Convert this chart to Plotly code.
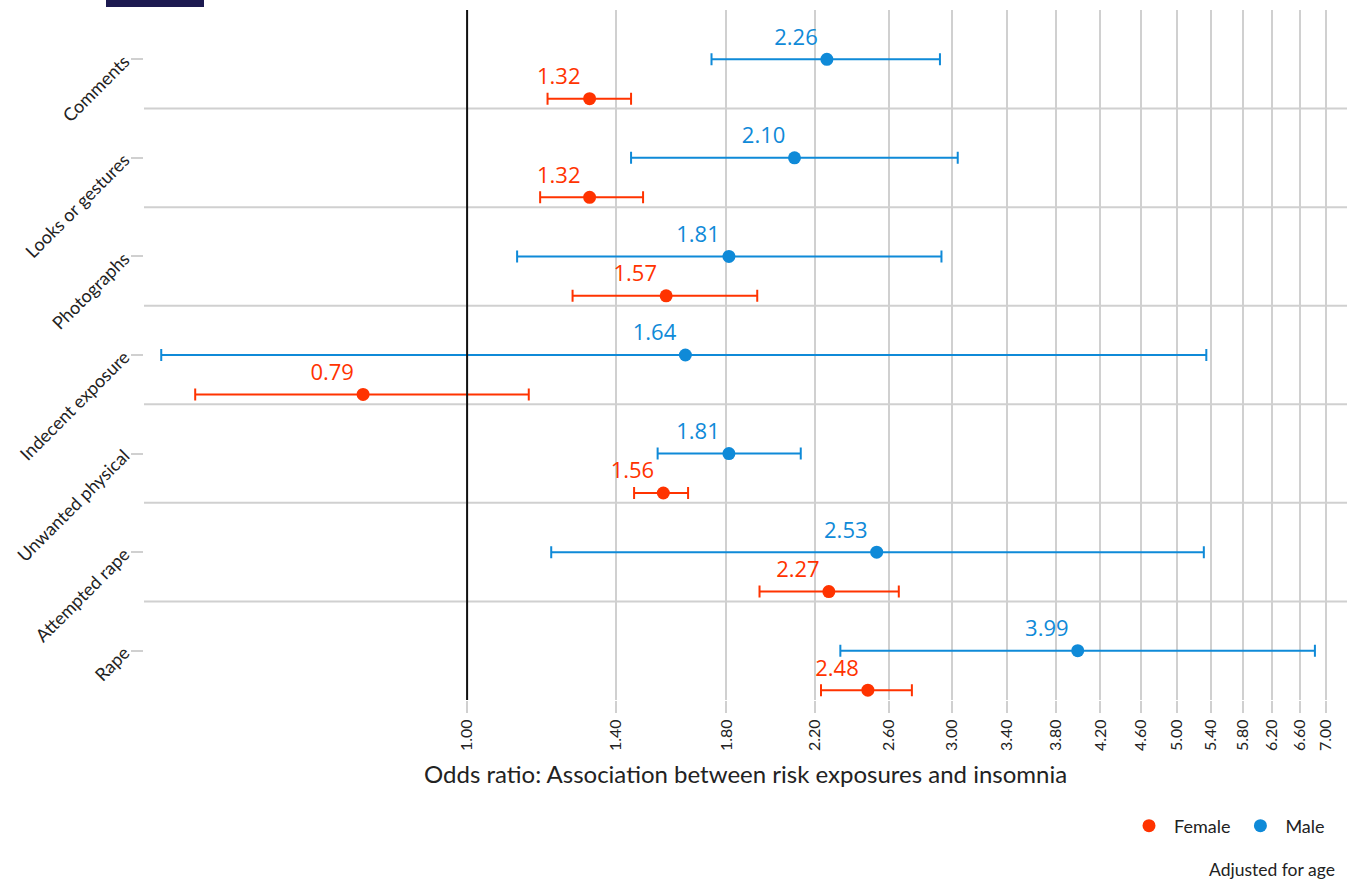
import plotly.graph_objects as go

# Exposure categories, top to bottom
categories = ["Comments", "Looks or gestures", "Photographs", "Indecent exposure",
              "Unwanted physical", "Attempted rape", "Rape"]

# Odds ratios with 95% confidence limits
male_or = [2.26, 2.10, 1.81, 1.64, 1.81, 2.53, 3.99]
male_lo = [1.74, 1.45, 1.12, 0.50, 1.54, 1.21, 2.33]
male_hi = [2.92, 3.04, 2.93, 5.34, 2.13, 5.31, 6.83]

female_or = [1.32, 1.32, 1.57, 0.79, 1.56, 2.27, 2.48]
female_lo = [1.20, 1.18, 1.27, 0.54, 1.46, 1.94, 2.23]
female_hi = [1.45, 1.49, 1.93, 1.15, 1.65, 2.66, 2.74]

x_ticks = [1.00, 1.40, 1.80, 2.20, 2.60, 3.00, 3.40, 3.80, 4.20, 4.60,
           5.00, 5.40, 5.80, 6.20, 6.60, 7.00]

RED = "#FF3300"
BLUE = "#0F8AD8"
GRID = "#D0D0D0"
TEXT = "#222222"
LABEL_FONT = "Open Sans"
AXIS_FONT = "Lato"

female_offset = 0.4
y_male = list(range(len(categories)))
y_female = [i + female_offset for i in y_male]

fig = go.Figure()


def add_series(name, y, est, lo, hi, color):
    fig.add_trace(go.Scatter(
        x=est, y=y, name=name, mode="markers+text",
        marker=dict(color=color, size=13),
        text=[f"{v:.2f}" for v in est],
        textposition="top left",
        textfont=dict(family=LABEL_FONT, size=22, color=color),
        error_x=dict(type="data", symmetric=False,
                     array=[h - e for h, e in zip(hi, est)],
                     arrayminus=[e - l for e, l in zip(est, lo)],
                     color=color, thickness=2, width=6),
        cliponaxis=False,
    ))


add_series("Female", y_female, female_or, female_lo, female_hi, RED)
add_series("Male", y_male, male_or, male_lo, male_hi, BLUE)

PLOT_W = 1203
PLOT_H = 690


def px_x(px):
    return (px - 144) / PLOT_W


def px_y(py):
    return (700 - py) / PLOT_H


shapes = []
# separators between exposure groups
for i in range(len(categories) - 1):
    shapes.append(dict(type="line", xref="paper", x0=0, x1=1, yref="y",
                       y0=i + 0.5, y1=i + 0.5, line=dict(color=GRID, width=2),
                       layer="below"))
# reference line at OR = 1
shapes.append(dict(type="line", xref="x", x0=1, x1=1, yref="paper", y0=0, y1=1,
                   line=dict(color="#111111", width=2), layer="above"))
# logo strip
shapes.append(dict(type="rect", xref="paper", yref="paper",
                   x0=px_x(106), x1=px_x(204), y0=px_y(7), y1=px_y(-2),
                   fillcolor="#1C1A50", line=dict(width=0)))

fig.update_layout(
    width=1351, height=879,
    margin=dict(l=144, r=4, t=10, b=179),
    paper_bgcolor="white", plot_bgcolor="white",
    font=dict(family=AXIS_FONT, color=TEXT),
    showlegend=True,
    legend=dict(orientation="h", x=px_x(1330), xanchor="right",
                y=px_y(826), yanchor="middle",
                font=dict(family=AXIS_FONT, size=18, color=TEXT),
                itemwidth=40),
    xaxis=dict(
        type="log", range=[-0.318, 0.866],
        tickvals=x_ticks, ticktext=[f"{v:.2f}" for v in x_ticks],
        tickangle=-90, tickfont=dict(size=16, family=AXIS_FONT, color=TEXT),
        showgrid=True, gridcolor=GRID, gridwidth=2,
        ticks="outside", ticklen=12, tickcolor=GRID, tickwidth=2,
        zeroline=False, showline=False,
    ),
    yaxis=dict(
        range=[len(categories) - 0.5, -0.5],
        tickvals=y_male, ticktext=categories,
        tickangle=-45, tickfont=dict(size=18, family=AXIS_FONT, color=TEXT),
        showgrid=False, zeroline=False, showline=False,
        ticks="outside", ticklen=12, tickcolor=GRID, tickwidth=2,
        ticklabelstandoff=3,
    ),
    shapes=shapes,
    annotations=[
        dict(text="Odds ratio: Association between risk exposures and insomnia",
             xref="paper", yref="paper", x=0.5, xanchor="center",
             y=px_y(774), yanchor="middle", showarrow=False,
             font=dict(size=24, family=AXIS_FONT, color=TEXT)),
        dict(text="Adjusted for age", xref="paper", yref="paper",
             x=px_x(1337), xanchor="right",
             y=px_y(869), yanchor="middle", showarrow=False,
             font=dict(size=17.5, family=AXIS_FONT, color=TEXT)),
    ],
)

fig.write_html("out.html")
